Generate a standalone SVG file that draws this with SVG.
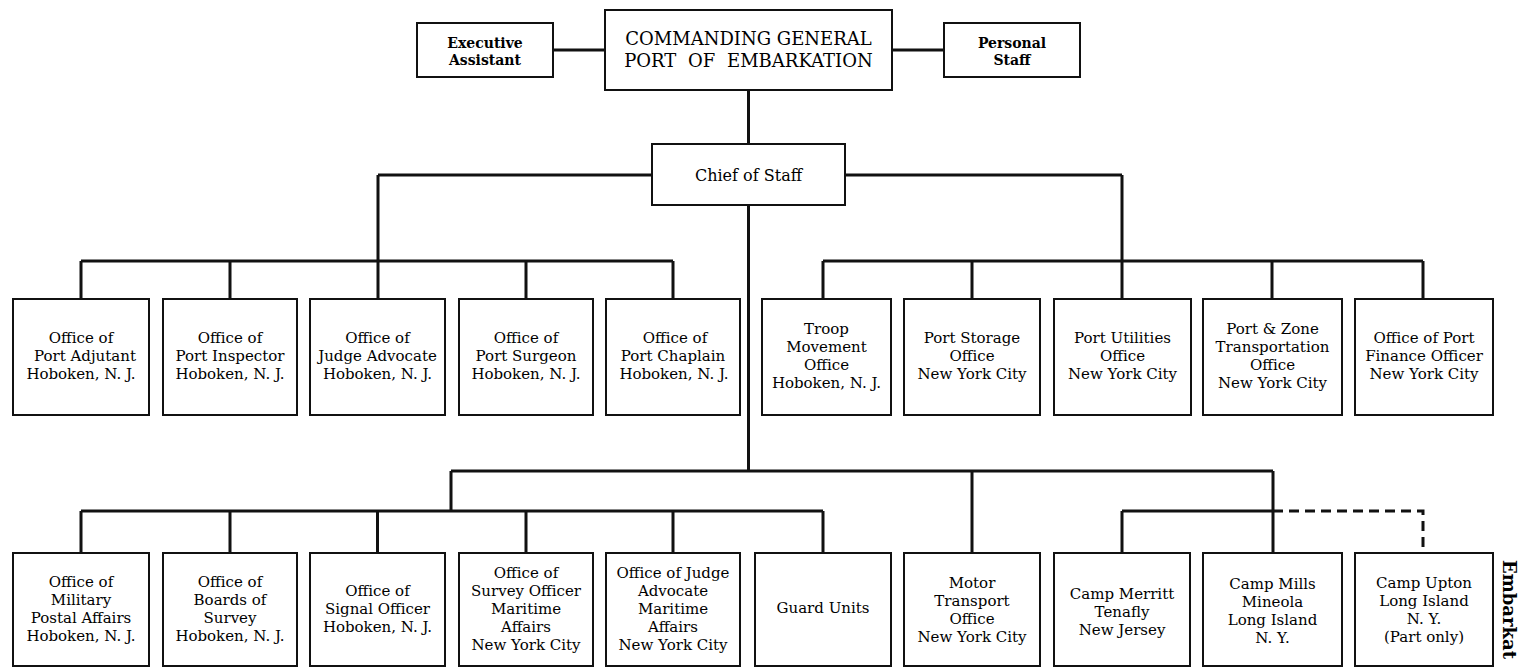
<svg xmlns="http://www.w3.org/2000/svg" width="1524" height="668" viewBox="0 0 1524 668">
<style>
.box{fill:#fff;stroke:#111;stroke-width:2}
.t{font-family:"DejaVu Serif","Liberation Serif",serif;font-size:15px;text-anchor:middle;fill:#000}
.tb{font-family:"DejaVu Serif","Liberation Serif",serif;font-size:14px;font-weight:bold;text-anchor:middle;fill:#000}
.cg{font-family:"DejaVu Serif","Liberation Serif",serif;font-size:18px;text-anchor:middle;fill:#000}
.ln{fill:none;stroke:#111;stroke-width:3}
.dash{fill:none;stroke:#111;stroke-width:3;stroke-dasharray:10 6}
</style>
<rect width="1524" height="668" fill="#fff"/>
<g id="connectors">
<path class="ln" d="M553,50H605M892,50H944M748.5,90V144"/>
<path class="ln" d="M378,175H652M845,175H1122M378,175V299M1122,175V299"/>
<path class="ln" d="M81,261H673M81,261V299M230,261V299M526,261V299M673,261V299"/>
<path class="ln" d="M823,261H1423M823,261V299M972,261V299M1272,261V299M1423,261V299"/>
<path class="ln" d="M748.5,205V471M451,471H1273M451,471V511"/>
<path class="ln" d="M81,511H823M81,511V553M230,511V553M377.5,511V553M526,511V553M673,511V553M823,511V553"/>
<path class="ln" d="M972,471V553M1273,471V553M1122,511H1273M1122,511V553"/>
<path class="dash" d="M1273,511H1423V553"/>
</g>
<g id="exec"><rect class="box" x="417" y="23" width="136" height="54"/><text class="tb" x="485" y="48">Executive</text><text class="tb" x="485" y="65">Assistant</text></g>
<g id="cg"><rect class="box" x="605" y="10" width="287" height="80"/><text class="cg" x="748.5" y="45">COMMANDING GENERAL</text><text class="cg" x="748.5" y="67" word-spacing="6">PORT OF EMBARKATION</text></g>
<g id="personal"><rect class="box" x="944" y="23" width="136" height="54"/><text class="tb" x="1012" y="48">Personal</text><text class="tb" x="1012" y="65">Staff</text></g>
<g id="chief"><rect class="box" x="652" y="144" width="193" height="61"/><text class="t" x="748.5" y="181" style="font-size:16px">Chief of Staff</text></g>

<g id="adjutant"><rect class="box" x="13" y="299" width="136" height="116"/><text class="t"><tspan x="81" y="343">Office of</tspan><tspan x="85" y="361">Port Adjutant</tspan><tspan x="81" y="379">Hoboken, N. J.</tspan></text></g>
<g id="inspector"><rect class="box" x="163" y="299" width="134" height="116"/><text class="t"><tspan x="230" y="343">Office of</tspan><tspan x="230" y="361">Port Inspector</tspan><tspan x="230" y="379">Hoboken, N. J.</tspan></text></g>
<g id="judge"><rect class="box" x="310" y="299" width="135" height="116"/><text class="t"><tspan x="377.5" y="343">Office of</tspan><tspan x="377.5" y="361">Judge Advocate</tspan><tspan x="377.5" y="379">Hoboken, N. J.</tspan></text></g>
<g id="surgeon"><rect class="box" x="459" y="299" width="134" height="116"/><text class="t"><tspan x="526" y="343">Office of</tspan><tspan x="526" y="361">Port Surgeon</tspan><tspan x="526" y="379">Hoboken, N. J.</tspan></text></g>
<g id="chaplain"><rect class="box" x="606" y="299" width="134" height="116"/><text class="t"><tspan x="675" y="343">Office of</tspan><tspan x="673" y="361">Port Chaplain</tspan><tspan x="674" y="379">Hoboken, N. J.</tspan></text></g>
<g id="troop"><rect class="box" x="762" y="299" width="129" height="116"/><text class="t"><tspan x="826.5" y="334">Troop</tspan><tspan x="826.5" y="352">Movement</tspan><tspan x="826.5" y="370">Office</tspan><tspan x="826.5" y="388">Hoboken, N. J.</tspan></text></g>
<g id="storage"><rect class="box" x="904" y="299" width="136" height="116"/><text class="t"><tspan x="972" y="343">Port Storage</tspan><tspan x="972" y="361">Office</tspan><tspan x="972" y="379">New York City</tspan></text></g>
<g id="utilities"><rect class="box" x="1054" y="299" width="137" height="116"/><text class="t"><tspan x="1122.5" y="343">Port Utilities</tspan><tspan x="1122.5" y="361">Office</tspan><tspan x="1122.5" y="379">New York City</tspan></text></g>
<g id="transport"><rect class="box" x="1203" y="299" width="139" height="116"/><text class="t"><tspan x="1272.5" y="334">Port &amp; Zone</tspan><tspan x="1272.5" y="352">Transportation</tspan><tspan x="1272.5" y="370">Office</tspan><tspan x="1272.5" y="388">New York City</tspan></text></g>
<g id="finance"><rect class="box" x="1355" y="299" width="138" height="116"/><text class="t"><tspan x="1424" y="343">Office of Port</tspan><tspan x="1424" y="361">Finance Officer</tspan><tspan x="1424" y="379">New York City</tspan></text></g>

<g id="postal"><rect class="box" x="13" y="553" width="136" height="113"/><text class="t"><tspan x="81" y="587">Office of</tspan><tspan x="81" y="605">Military</tspan><tspan x="81" y="623">Postal Affairs</tspan><tspan x="81" y="641">Hoboken, N. J.</tspan></text></g>
<g id="boards"><rect class="box" x="163" y="553" width="134" height="113"/><text class="t"><tspan x="230" y="587">Office of</tspan><tspan x="230" y="605">Boards of</tspan><tspan x="230" y="623">Survey</tspan><tspan x="230" y="641">Hoboken, N. J.</tspan></text></g>
<g id="signal"><rect class="box" x="310" y="553" width="135" height="113"/><text class="t"><tspan x="377.5" y="596">Office of</tspan><tspan x="377.5" y="614">Signal Officer</tspan><tspan x="377.5" y="632">Hoboken, N. J.</tspan></text></g>
<g id="survey"><rect class="box" x="459" y="553" width="134" height="113"/><text class="t"><tspan x="526" y="578">Office of</tspan><tspan x="526" y="596">Survey Officer</tspan><tspan x="526" y="614">Maritime</tspan><tspan x="526" y="632">Affairs</tspan><tspan x="526" y="650">New York City</tspan></text></g>
<g id="judge-maritime"><rect class="box" x="606" y="553" width="134" height="113"/><text class="t"><tspan x="673" y="578">Office of Judge</tspan><tspan x="673" y="596">Advocate</tspan><tspan x="673" y="614">Maritime</tspan><tspan x="673" y="632">Affairs</tspan><tspan x="673" y="650">New York City</tspan></text></g>
<g id="guard"><rect class="box" x="755" y="553" width="136" height="113"/><text class="t" x="823" y="613">Guard Units</text></g>
<g id="motor"><rect class="box" x="904" y="553" width="136" height="113"/><text class="t"><tspan x="972" y="588">Motor</tspan><tspan x="972" y="606">Transport</tspan><tspan x="972" y="624">Office</tspan><tspan x="972" y="642">New York City</tspan></text></g>
<g id="merritt"><rect class="box" x="1054" y="553" width="136" height="113"/><text class="t"><tspan x="1122" y="599">Camp Merritt</tspan><tspan x="1122" y="617">Tenafly</tspan><tspan x="1122" y="635">New Jersey</tspan></text></g>
<g id="mills"><rect class="box" x="1203" y="553" width="139" height="113"/><text class="t"><tspan x="1272.5" y="589">Camp Mills</tspan><tspan x="1272.5" y="607">Mineola</tspan><tspan x="1272.5" y="625">Long Island</tspan><tspan x="1272.5" y="643">N. Y.</tspan></text></g>
<g id="upton"><rect class="box" x="1355" y="553" width="138" height="113"/><text class="t"><tspan x="1424" y="588">Camp Upton</tspan><tspan x="1424" y="606">Long Island</tspan><tspan x="1424" y="624">N. Y.</tspan><tspan x="1424" y="642">(Part only)</tspan></text></g>

<text transform="translate(1503,560) rotate(90)" style="font-family:'DejaVu Serif','Liberation Serif',serif;font-size:18px;font-weight:bold;fill:#000">Embarkat</text>
</svg>
